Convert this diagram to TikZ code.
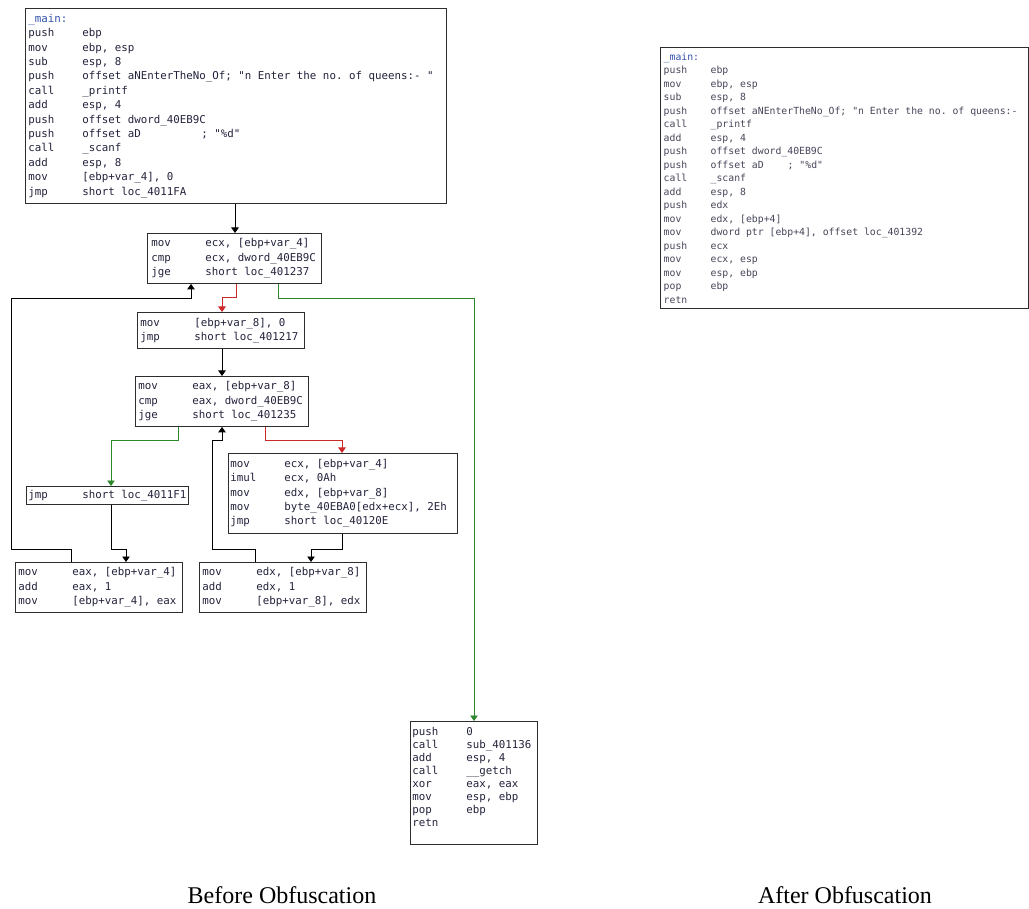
\documentclass[tikz,border=0pt]{standalone}
\usepackage{fontspec}
\usetikzlibrary{arrows.meta}
\newfontfamily\asmfont[WordSpace={1,0,0}]{DejaVu Sans Mono}
\newfontfamily\capfont{Liberation Serif}
\definecolor{asmtxt}{RGB}{35,35,60}
\definecolor{asmtxtlight}{RGB}{70,70,90}
\definecolor{lbl}{RGB}{50,80,170}
\definecolor{edgered}{RGB}{205,40,40}
\definecolor{edgegreen}{RGB}{45,135,45}
\definecolor{framec}{RGB}{45,45,45}
\newcommand{\monosp}{\frenchspacing\spaceskip=0.602em\xspaceskip=0.602em\relax}
\newcommand{\AL}[2]{\makebox[54pt][l]{#1}\mbox{\monosp #2}}
\newcommand{\ALr}[2]{\makebox[47pt][l]{#1}\mbox{\monosp #2}}
\newcommand{\asmsize}[2]{\asmfont\fontsize{#1}{#2}\selectfont}
\tikzset{
  blockbox/.style={draw=framec, line width=0.9pt, fill=white, anchor=north west,
    align=left, inner ysep=0pt, text=asmtxt},
  fnA/.style={font=\asmsize{10.8}{14.5}},
  edgeblack/.style={draw=black, line width=0.9pt, -{Triangle[width=7.5pt,length=5.5pt]}},
  edgeR/.style={draw=edgered, line width=0.9pt, -{Triangle[width=7.5pt,length=5.5pt]}},
  edgeG/.style={draw=edgegreen, line width=0.9pt, -{Triangle[width=7.5pt,length=5.5pt]}},
  captext/.style={font=\capfont\fontsize{24}{28}\selectfont, text=black}
}
\begin{document}
\begin{tikzpicture}[x=1pt,y=-1pt]
\useasboundingbox (0,0) rectangle (1029,909);

% main block
\node[blockbox, font=\asmsize{10.8}{14.4}, inner xsep=3pt,
  text width=415pt, minimum width=421pt, minimum height=195pt] (top) at (25,8) {%
\textcolor{lbl}{\_main:}\\
\AL{push}{ebp}\\
\AL{mov}{ebp, esp}\\
\AL{sub}{esp, 8}\\
\AL{push}{offset aNEnterTheNo\_Of; "n Enter the no. of queens:- "}\\
\AL{call}{\_printf}\\
\AL{add}{esp, 4}\\
\AL{push}{offset dword\_40EB9C}\\
\AL{push}{\makebox[119pt][l]{offset aD}; "\%d"}\\
\AL{call}{\_scanf}\\
\AL{add}{esp, 8}\\
\AL{mov}{[ebp+var\_4], 0}\\
\AL{jmp}{short loc\_4011FA}};

\node[blockbox, fnA, inner xsep=4pt, text width=166pt, minimum width=174pt,
  minimum height=50pt] (b2) at (147,233) {%
\AL{mov}{ecx, [ebp+var\_4]}\\
\AL{cmp}{ecx, dword\_40EB9C}\\
\AL{jge}{short loc\_401237}};

\node[blockbox, fnA, inner xsep=3pt, text width=161pt, minimum width=167pt,
  minimum height=36pt] (b3) at (137,312) {%
\AL{mov}{[ebp+var\_8], 0}\\
\AL{jmp}{short loc\_401217}};

\node[blockbox, fnA, inner xsep=3pt, text width=167pt, minimum width=173pt,
  minimum height=50pt] (b4) at (135,376) {%
\AL{mov}{eax, [ebp+var\_8]}\\
\AL{cmp}{eax, dword\_40EB9C}\\
\AL{jge}{short loc\_401235}};

\node[blockbox, fnA, inner xsep=2pt, text width=158pt, minimum width=162pt,
  minimum height=18pt] (jmpb) at (26,486) {%
\AL{jmp}{short loc\_4011F1}};

\node[blockbox, font=\asmsize{10.8}{14.3}, inner xsep=2pt,
  text width=225pt, minimum width=229pt, minimum height=80pt] (b5) at (228,453) {%
\AL{mov}{ecx, [ebp+var\_4]}\\
\AL{imul}{ecx, 0Ah}\\
\AL{mov}{edx, [ebp+var\_8]}\\
\AL{mov}{byte\_40EBA0[edx+ecx], 2Eh}\\
\AL{jmp}{short loc\_40120E}};

\node[blockbox, fnA, inner xsep=3pt, text width=161pt, minimum width=167pt,
  minimum height=50pt] (b7) at (15,562) {%
\AL{mov}{eax, [ebp+var\_4]}\\
\AL{add}{eax, 1}\\
\AL{mov}{[ebp+var\_4], eax}};

\node[blockbox, fnA, inner xsep=3pt, text width=161pt, minimum width=167pt,
  minimum height=50pt] (b6) at (199,562) {%
\AL{mov}{edx, [ebp+var\_8]}\\
\AL{add}{edx, 1}\\
\AL{mov}{[ebp+var\_8], edx}};

\node[blockbox, font=\asmsize{10.8}{13}, inner xsep=2pt,
  text width=123pt, minimum width=127pt, minimum height=123pt] (bot) at (410,721) {%
\AL{push}{0}\\
\AL{call}{sub\_401136}\\
\AL{add}{esp, 4}\\
\AL{call}{\_\_getch}\\
\AL{xor}{eax, eax}\\
\AL{mov}{esp, ebp}\\
\AL{pop}{ebp}\\
\AL{retn}{}\\
\mbox{}};

% after obfuscation
\node[blockbox, line width=1.4pt, text=asmtxtlight, font=\asmsize{9.8}{13.5},
  inner xsep=3pt, text width=362pt, minimum width=368pt, minimum height=261pt]
  (after) at (660,47) {%
\textcolor{lbl}{\_main:}\\
\ALr{push}{ebp}\\
\ALr{mov}{ebp, esp}\\
\ALr{sub}{esp, 8}\\
\ALr{push}{offset aNEnterTheNo\_Of; "n Enter the no. of queens:-}\\
\ALr{call}{\_printf}\\
\ALr{add}{esp, 4}\\
\ALr{push}{offset dword\_40EB9C}\\
\ALr{push}{\makebox[77pt][l]{offset aD}; "\%d"}\\
\ALr{call}{\_scanf}\\
\ALr{add}{esp, 8}\\
\ALr{push}{edx}\\
\ALr{mov}{edx, [ebp+4]}\\
\ALr{mov}{dword ptr [ebp+4], offset loc\_401392}\\
\ALr{push}{ecx}\\
\ALr{mov}{ecx, esp}\\
\ALr{mov}{esp, ebp}\\
\ALr{pop}{ebp}\\
\ALr{retn}{}};

% edges
\draw[edgeblack] ([xshift=210pt]top.south west) -- ([xshift=88pt]b2.north west);
\draw[edgeR] ([xshift=89pt]b2.south west) -- ++(0,14) -| ([xshift=85pt]b3.north west);
\draw[edgeG] ([xshift=131pt]b2.south west) -- ++(0,15) -| ([xshift=64pt]bot.north west);
\draw[edgeblack] ([xshift=85pt]b3.south west) -- ([xshift=87pt]b4.north west);
\draw[edgeG] ([xshift=43pt]b4.south west) -- ++(0,14) -| ([xshift=85pt]jmpb.north west);
\draw[edgeR] ([xshift=130pt]b4.south west) -- ++(0,14) -| ([xshift=114pt]b5.north west);
\draw[edgeblack] ([xshift=85pt]jmpb.south west) -- ++(0,45) -| ([xshift=111pt]b7.north west);
\draw[edgeblack] ([xshift=114pt]b5.south west) -- ++(0,16) -| ([xshift=112pt]b6.north west);
\draw[edgeblack] ([xshift=56pt]b6.north west) -- ++(0,-13) -- ++(-43,0) -- ++(0,-109)
  -| ([xshift=87pt]b4.south west);
\draw[edgeblack] ([xshift=56pt]b7.north west) -- ++(0,-13) -- ++(-60,0) -- ++(0,-251)
  -| ([xshift=44pt]b2.south west);

% captions
\node[captext] (capB) at (282,895) {Before Obfuscation};
\node[captext] (capA) at (845,895) {After Obfuscation};
\end{tikzpicture}
\end{document}
